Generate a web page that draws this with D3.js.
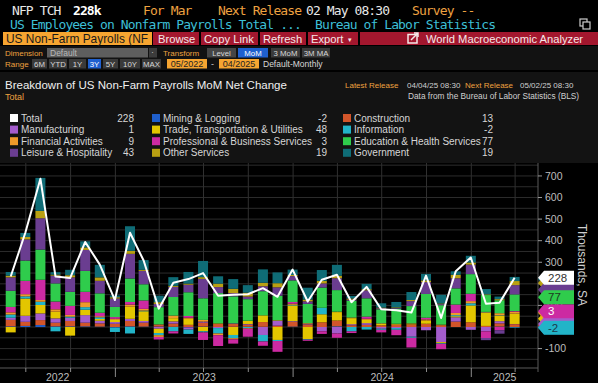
<!DOCTYPE html>
<html>
<head>
<meta charset="utf-8">
<script src="https://cdn.jsdelivr.net/npm/d3@7"></script>
<style>
  body { margin: 0; background: #000; overflow: hidden; }
  svg { display: block; }
</style>
</head>
<body>
<svg id="chart" width="598" height="383"></svg>
<script>
// Monthly net change, thousands SA, May 2022 .. Mar 2025
const months = d3.timeMonth.range(new Date(2022, 4, 1), new Date(2025, 3, 1));

const total         = [234, 437, 687, 234, 227, 394, 289, 125, 437, 308, 85, 205, 222, 250, 145, 150, 152, 180, 140, 266, 118, 219, 242, 115, 186, 82, 78, 67, 238, 42, 258, 322, 108, 112, 228];
const mining        = [3, 5, 9, 3, 3, 3, 2, -3, 3, 2, 2, 1, -2, 2, 0, 1, 1, 1, 0, 2, 0, 0, 3, 0, 0, 0, 0, 0, 0, 0, 0, 0, 0, 2, -2];
const construction  = [30, 19, 23, 17, 25, 17, 15, 15, 25, 18, 10, 15, 10, 18, 15, 14, 10, 22, 6, 22, 12, 22, 27, 8, 10, 8, 10, 12, 15, 8, 25, 22, 5, 15, 13];
const manufacturing = [10, 28, 31, 20, 15, 35, 12, 8, 10, 8, -8, 10, -10, 5, -5, 2, 3, -37, 22, 3, 3, -20, -30, 5, 8, -8, -5, -45, -15, -70, 20, -13, -20, 10, 1];
const trade         = [-25, 80, 39, 31, -40, 25, 8, 10, 56, 45, -20, 15, 28, -20, 2, -37, 15, 31, -60, 73, -56, 37, 39, 28, 15, 6, 3, 3, 15, -5, 5, 78, 60, 25, 48];
const information   = [15, 10, 15, -20, 5, 12, 8, -20, -30, 3, -10, -20, -20, -5, -25, -15, -5, -30, -5, 3, -3, 30, 0, -20, -12, -5, -8, -5, 0, -3, 5, 10, 2, 2, -2];
const financial     = [10, 10, 8, 11, 8, 23, 5, 5, 10, 8, -8, 12, 5, 8, -8, -5, -3, 0, 3, 5, 3, 0, 2, 3, 5, 3, 2, 2, 5, 3, 10, 10, 3, 10, 9];
const professional  = [25, 62, 94, 36, 42, 48, 16, 8, 12, 39, -12, -10, 8, -35, -50, -20, -37, -20, -50, 8, -5, -12, -20, -8, 10, -12, -25, -45, 8, -25, 39, 34, -31, -15, 3];
const eduHealth     = [75, 94, 140, 84, 65, 97, 90, 47, 109, 75, 80, 86, 110, 100, 140, 125, 100, 112, 114, 100, 89, 94, 100, 78, 85, 65, 70, 80, 110, 90, 75, 91, 78, 60, 77];
const leisure       = [62, 98, 145, 36, 67, 97, 58, 39, 114, 62, 15, 47, 35, 90, 28, 15, 12, 23, 39, 20, 12, 19, 55, 5, 37, 5, 3, 23, 55, 5, 47, 44, -10, -16, 43];
const otherServices = [8, 11, 34, 5, 10, 12, 16, 6, 14, 5, 8, 5, 5, 8, 16, 20, 18, 16, 19, 5, 8, 12, 12, 5, 5, 3, 3, 5, 8, 3, 16, 10, 3, 5, 19];
const government    = [17, 19, 153, 11, 25, 28, 58, 8, 114, 45, 30, 40, 54, 75, 34, 45, 35, 62, 50, 25, 55, 50, 50, 12, 25, 20, 25, 37, 30, 40, 16, 31, 25, 12, 19];

const sectorKeys = ["mining", "construction", "manufacturing", "trade", "information", "financial",
                    "professional", "eduHealth", "leisure", "otherServices", "government"];
const sectorValues = [mining, construction, manufacturing, trade, information, financial,
                      professional, eduHealth, leisure, otherServices, government];
const sectorNames = ["Mining & Logging", "Construction", "Manufacturing", "Trade, Transportation & Utilities",
                     "Information", "Financial Activities", "Professional & Business Services",
                     "Education & Health Services", "Leisure & Hospitality", "Other Services", "Government"];
const sectorColors = ["#1f5fcc", "#d2552a", "#a45ccc", "#e3c600", "#22b4c8", "#ef9a2a",
                      "#cc2aa2", "#2fcc4c", "#6a3d90", "#b9a012", "#0f6c76"];

// 200 and 0 sit under the value tags in the original, only these are visible
const yTicks = [-100, 100, 300, 400, 500, 600, 700];

const svg = d3.select("#chart");
const W = 598, H = 383;
const mono = "'DejaVu Sans Mono', monospace";
const sans = "'Liberation Sans', Arial, sans-serif";
const orange = "#eea240";

svg.append("rect").attr("width", W).attr("height", H).attr("fill", "#000");

function label(x, y, s, size, fill, family, extra) {
    const t = svg.append("text")
        .attr("x", x).attr("y", y)
        .attr("font-family", family || sans)
        .attr("font-size", size + "px")
        .attr("fill", fill)
        .text(s);
    if (extra) Object.entries(extra).forEach(([k, v]) => t.attr(k, v));
    return t;
}

// ---- terminal header rows ----
const monoOpts = { "letter-spacing": "-0.9px" };
label(12, 15, "NFP TCH", 13, "#e8e8e8", mono, monoOpts);
label(73, 15, "228k", 13, "#ffffff", mono, Object.assign({ "font-weight": "bold" }, monoOpts));
label(143, 15, "For Mar", 13, orange, mono, monoOpts);
label(218, 15, "Next Release", 13, orange, mono, monoOpts);
label(306, 15, "02 May 08:30", 13, "#e8e8e8", mono, monoOpts);
label(412, 15, "Survey --", 13, orange, mono, monoOpts);
label(10, 29, "US Employees on Nonfarm Payrolls Total ...", 13, "#3dbfd6", mono, monoOpts);
label(315, 29, "Bureau of Labor Statistics", 13, "#3dbfd6", mono, monoOpts);

// small pop-out icon top right
svg.append("rect").attr("x", 580).attr("y", 19).attr("width", 7).attr("height", 7)
    .attr("fill", "none").attr("stroke", "#ccc").attr("stroke-width", 1.2);
svg.append("rect").attr("x", 583).attr("y", 22).attr("width", 7).attr("height", 7)
    .attr("fill", "#000").attr("stroke", "#ccc").attr("stroke-width", 1.2);

// security bar
svg.append("rect").attr("x", 3).attr("y", 32).attr("width", 149).attr("height", 13).attr("fill", "#f6a531");
label(6, 43, "US Non-Farm Payrolls (NF", 11.9, "#1a1a1a");
svg.append("rect").attr("x", 153).attr("y", 32).attr("width", 445).attr("height", 13).attr("fill", "#a3172e");
[199, 258, 306, 358].forEach(x =>
    svg.append("rect").attr("x", x).attr("y", 32).attr("width", 2).attr("height", 13).attr("fill", "#000"));
label(158, 43, "Browse", 11.2, "#f5e8e8");
label(204, 43, "Copy Link", 11.2, "#f5e8e8");
label(263, 43, "Refresh", 11.2, "#f5e8e8");
label(311, 43, "Export", 11.2, "#f5e8e8");
label(348, 42, "\u25BE", 7, "#f5e8e8");
svg.append("rect").attr("x", 408).attr("y", 34.5).attr("width", 9).attr("height", 8.5)
    .attr("fill", "none").attr("stroke", "#f5e8e8").attr("stroke-width", 1.5);
svg.append("path").attr("d", "M411,40 L418,33 M414,33 L418,33 L418,37")
    .attr("stroke", "#f5e8e8").attr("stroke-width", 1.5).attr("fill", "none");
label(426, 43, "World Macroeconomic Analyzer", 11.2, "#f5e8e8");

// option rows
svg.append("rect").attr("x", 0).attr("y", 46).attr("width", W).attr("height", 24).attr("fill", "#121212");
label(5, 56, "Dimension", 8, orange);
svg.append("rect").attr("x", 47).attr("y", 48).attr("width", 101).attr("height", 9.5).attr("fill", "#5e5e5e");
label(50, 56, "Default", 8.5, "#b8b8b8");
svg.append("rect").attr("x", 149).attr("y", 48).attr("width", 8).attr("height", 9.5).attr("fill", "#3c3c3c");
label(151, 55, "\u00B7", 9, "#bbb");
label(163, 56, "Transform", 8, orange);

function button(x0, x1, y, s, fill, color, size) {
    svg.append("rect").attr("x", x0).attr("y", y).attr("width", x1 - x0).attr("height", 9.5).attr("fill", fill);
    label((x0 + x1) / 2, y + 7.8, s, size || 7.8, color, sans, { "text-anchor": "middle" });
}
button(207, 236, 48, "Level", "#454545", "#d8d8d8");
button(238, 268, 48, "MoM", "#1f60cf", "#ffffff");
button(271, 300, 48, "3 MoM", "#3a3a3a", "#d8d8d8");
button(302, 330, 48, "3M MA", "#3a3a3a", "#d8d8d8");

label(5, 67, "Range", 8, orange);
[[32, 47, "6M"], [49, 67, "YTD"], [69, 86, "1Y"], [103, 118, "5Y"], [120, 140, "10Y"], [142, 161, "MAX"]]
    .forEach(b => button(b[0], b[1], 59, b[2], "#3a3a3a", "#d8d8d8"));
button(88, 101, 59, "3Y", "#1f60cf", "#ffffff");
button(167, 207, 59, "05/2022", "#f6a531", "#222", 9);
label(211, 67, "-", 9, "#ccc");
button(219, 259, 59, "04/2025", "#f6a531", "#222", 9);
label(263, 67, "Default-Monthly", 8.5, "#d8d8d8");

// ---- chart panel ----
svg.append("rect").attr("x", 0).attr("y", 72).attr("width", W).attr("height", 91).attr("fill", "#131313");
label(5, 89, "Breakdown of US Non-Farm Payrolls MoM Net Change", 11.5, "#f0f0f0");
label(5, 100, "Total", 9, orange);
label(345, 88, "Latest Release", 8, orange);
label(407, 88, "04/04/25 08:30", 8, "#d0d0d0");
label(465, 88, "Next Release", 8, orange);
label(520, 88, "05/02/25 08:30", 8, "#d0d0d0");
label(408, 99, "Data from the Bureau of Labor Statistics (BLS)", 8.3, "#d0d0d0");

// legend: Total first, then sectors, filled row by row in three columns
const legendItems = [{ name: "Total", color: "#ffffff", value: total[total.length - 1] }]
    .concat(sectorNames.map((n, i) => ({ name: n, color: sectorColors[i], value: sectorValues[i][total.length - 1] })));
const legendCols = [{ sq: 10, txt: 21, val: 134 }, { sq: 152, txt: 163, val: 327 }, { sq: 343, txt: 354, val: 493 }];
legendItems.forEach((d, i) => {
    const col = legendCols[i % 3];
    const y = 118 + Math.floor(i / 3) * 11.6;
    svg.append("rect").attr("x", col.sq).attr("y", y - 4).attr("width", 8).attr("height", 8).attr("fill", d.color);
    label(col.txt, y + 3.5, d.name, 10, "#d6d6d6");
    label(col.val, y + 3.5, d.value, 10, "#d6d6d6", sans, { "text-anchor": "end" });
});

// ---- plot ----
const plotTop = 163, plotBottom = 368, plotRight = 538;
svg.append("rect").attr("x", 0).attr("y", plotTop).attr("width", plotRight).attr("height", plotBottom - plotTop).attr("fill", "#000");

const x = d3.scaleTime()
    .domain([new Date(2022, 4, 9), new Date(2025, 4, 18)])
    .range([0, plotRight]);
const y = d3.scaleLinear().domain([-190, 760]).range([plotBottom, plotTop]);
const monthEnd = d => new Date(d.getFullYear(), d.getMonth() + 1, 0);

const grid = svg.append("g");
grid.selectAll("line.h").data(d3.range(-150, 751, 50)).enter().append("line")
    .attr("x1", 0).attr("x2", plotRight)
    .attr("y1", d => y(d)).attr("y2", d => y(d))
    .attr("stroke", "#2c2c2c").attr("stroke-width", 1);
const quarters = d3.timeMonth.every(3).range(x.domain()[0], x.domain()[1]);
grid.selectAll("line.v").data(quarters).enter().append("line")
    .attr("x1", d => x(d)).attr("x2", d => x(d))
    .attr("y1", plotTop).attr("y2", plotBottom)
    .attr("stroke", "#303030").attr("stroke-width", 1);

// stacked bars
const rows = months.map((m, i) => {
    const r = { date: m };
    sectorKeys.forEach((k, j) => r[k] = sectorValues[j][i]);
    return r;
});
const stacked = d3.stack().keys(sectorKeys).offset(d3.stackOffsetDiverging)(rows);
const barW = 10;
svg.append("g").selectAll("g").data(stacked).enter().append("g")
    .attr("fill", (d, i) => sectorColors[i])
    .selectAll("rect").data(d => d).enter().append("rect")
    .attr("x", d => x(monthEnd(d.data.date)) - barW / 2)
    .attr("width", barW)
    .attr("y", d => y(Math.max(d[0], d[1])))
    .attr("height", d => Math.abs(y(d[0]) - y(d[1])));

// total line
svg.append("path").datum(total)
    .attr("fill", "none").attr("stroke", "#ffffff").attr("stroke-width", 2).attr("stroke-linejoin", "round")
    .attr("d", d3.line().x((d, i) => x(monthEnd(months[i]))).y(d => y(d)));

// axes lines
svg.append("line").attr("x1", 0).attr("x2", plotRight).attr("y1", plotBottom).attr("y2", plotBottom)
    .attr("stroke", "#5a5a5a");
svg.append("line").attr("x1", plotRight).attr("x2", plotRight).attr("y1", plotTop).attr("y2", plotBottom + 4)
    .attr("stroke", "#5a5a5a");

// right axis
const yAxis = svg.append("g");
d3.range(-100, 701, 100).forEach(v => {
    yAxis.append("line").attr("x1", plotRight).attr("x2", plotRight + 4)
        .attr("y1", y(v)).attr("y2", y(v)).attr("stroke", "#9a9a9a");
});
yTicks.forEach(v => label(plotRight + 7, y(v) + 3.8, v, 10.5, "#bdbdbd"));
label(0, 0, "Thousands, SA", 12, "#cfcfcf", sans, {
    "text-anchor": "middle",
    transform: `translate(578,265) rotate(90)`
});

// bottom axis: quarter ticks, taller year ticks, centred year labels
quarters.forEach(d => {
    const isYear = d.getMonth() === 0;
    svg.append("line").attr("x1", x(d)).attr("x2", x(d))
        .attr("y1", plotBottom).attr("y2", plotBottom + (isYear ? 9 : 4))
        .attr("stroke", "#8a8a8a");
});
[2022, 2023, 2024, 2025].forEach(yr => {
    const a = Math.max(x(new Date(yr, 0, 1)), 0);
    const b = Math.min(x(new Date(yr + 1, 0, 1)), plotRight);
    label((a + b) / 2, 381, yr, 10.5, "#bdbdbd", sans, { "text-anchor": "middle" });
});

// value tags on the right for the latest month
const last = total.length - 1;
const tagColors = {};
sectorKeys.forEach((k, i) => tagColors[k] = sectorColors[i]);
const segCenter = k => {
    const s = stacked[sectorKeys.indexOf(k)][last];
    return y((s[0] + s[1]) / 2);
};
function tag(yc, fill, text, textFill) {
    const x0 = plotRight, h = 7;
    svg.append("path")
        .attr("d", `M${x0},${yc} L${x0 + 6},${yc - h} L${x0 + 36},${yc - h} L${x0 + 36},${yc + h} L${x0 + 6},${yc + h} Z`)
        .attr("fill", fill);
    if (text !== null) label(x0 + 10, yc + 4, text, 11.5, textFill);
}
// tags mostly covered by the front ones: drawn without text
const hidden = ["government", "otherServices", "leisure", "trade", "financial", "construction", "mining", "manufacturing"];
hidden.forEach(k => tag(segCenter(k), tagColors[k], null));

const shown = [
    { y: segCenter("information"), fill: tagColors.information, text: information[last], color: "#1b3a4a" },
    { y: segCenter("professional"), fill: tagColors.professional, text: professional[last], color: "#ffffff" },
    { y: segCenter("eduHealth"), fill: tagColors.eduHealth, text: eduHealth[last], color: "#1d3a22" },
    { y: y(total[last]), fill: "#ffffff", text: total[last], color: "#333" }
];
let prev = Infinity;
shown.forEach(t => {
    t.y = Math.min(t.y, prev - 14);
    prev = t.y;
    tag(t.y, t.fill, t.text, t.color);
});
</script>
</body>
</html>
